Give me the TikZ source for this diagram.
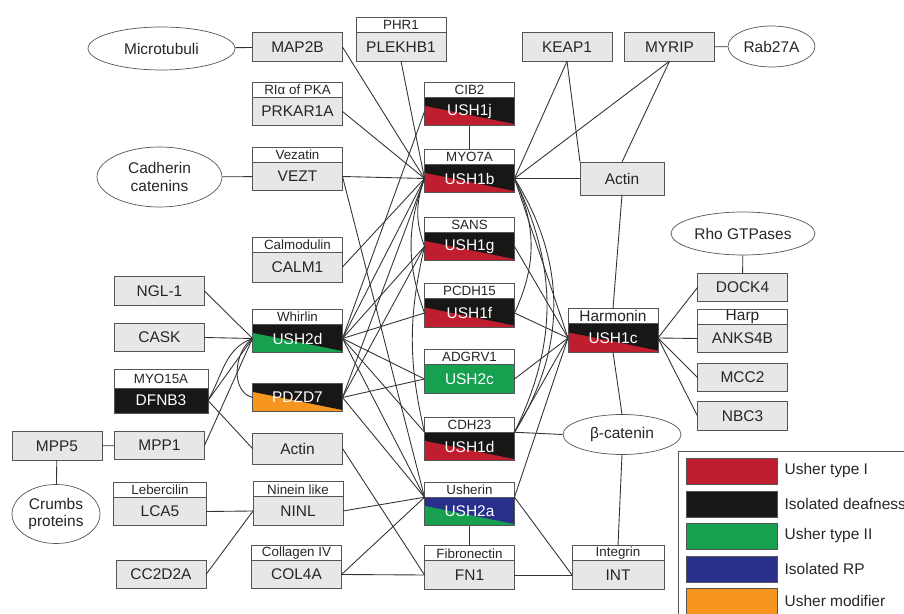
\documentclass[tikz,border=0pt]{standalone}
\usepackage{fontspec}
\setmainfont{Liberation Sans}
\usetikzlibrary{positioning, shapes.geometric, calc}

\definecolor{ushred}{RGB}{190,30,45}
\definecolor{ushgreen}{RGB}{22,160,80}
\definecolor{ushblue}{RGB}{40,48,140}
\definecolor{ushorange}{RGB}{246,150,30}
\definecolor{isoblack}{RGB}{25,22,22}
\definecolor{boxgray}{RGB}{230,231,233}
\definecolor{linegray}{RGB}{85,85,85}

\newcommand{\boxfont}{\fontsize{8.8}{10}\selectfont}
\newcommand{\headfont}{\fontsize{7.6}{8}\selectfont}

\tikzset{
  gbox/.style={draw=linegray, fill=boxgray, text=black!85, minimum width=1.8cm, minimum height=0.57cm, inner sep=0pt, outer sep=0pt, font=\boxfont},
  hbox/.style={draw=linegray, fill=white, text=black!85, minimum width=1.8cm, minimum height=0.3cm, inner sep=0pt, outer sep=0pt, font=\headfont},
  oval/.style={draw=linegray, fill=white, ellipse, inner sep=0pt, text=black!85, font=\boxfont, align=center},
  twotone/.style 2 args={gbox, fill=#1, text=white, path picture={
      \fill[#2] ($(path picture bounding box.north west)!0.3!(path picture bounding box.south west)$)
        -- (path picture bounding box.north west) -- (path picture bounding box.north east)
        -- ($(path picture bounding box.south east)!0.06!(path picture bounding box.north east)$) -- cycle;}},
  swatch/.style={draw=linegray, minimum width=1.82cm, minimum height=0.52cm, inner sep=0pt},
  legtext/.style={anchor=west, inner sep=0pt, font=\boxfont, text=black!85},
  link/.style={draw=black!80, line width=0.5pt},
}

\begin{document}
\begin{tikzpicture}[x=0.02cm, y=-0.02cm]
  \useasboundingbox (0,0) rectangle (904,614);

  % Ovals
  \node[oval, minimum width=2.94cm, minimum height=0.86cm] (microtubuli) at (161.5,48.5) {Microtubuli};
  \node[oval, minimum width=2.5cm, minimum height=1.2cm] (cadherin) at (159.5,177) {Cadherin\\catenins};
  \node[oval, minimum width=1.76cm, minimum height=1.18cm] (crumbs) at (56,514) {Crumbs\\proteins};
  \node[oval, minimum width=1.74cm, minimum height=0.82cm] (rab27a) at (771.5,46.5) {Rab27A};
  \node[oval, minimum width=2.88cm, minimum height=0.86cm] (rho) at (743,233.5) {Rho GTPases};
  \node[oval, minimum width=2.36cm, minimum height=0.8cm] (bcat) at (622,434.5) {β-catenin};

  % Far left column
  \node[gbox] (mpp5) at (57,446) {MPP5};
  \node[gbox] (ngl1) at (159.5,291) {NGL-1};
  \node[gbox] (cask) at (159.5,337.5) {CASK};
  \node[gbox, fill=isoblack, text=white, minimum width=1.88cm, minimum height=0.5cm] (dfnb3) at (161,400.5) {DFNB3};
  \node[hbox, minimum width=1.88cm, minimum height=0.38cm, above=0pt of dfnb3] (myo15a) {MYO15A};
  \node[gbox] (mpp1) at (159.5,445.5) {MPP1};
  \node[gbox, minimum width=1.86cm] (lca5) at (160,511.5) {LCA5};
  \node[hbox, minimum width=1.86cm, above=0pt of lca5] (lebercilin) {Lebercilin};
  \node[gbox] (cc2d2a) at (161,574.5) {CC2D2A};

  % Second column
  \node[gbox] (map2b) at (297.5,47) {MAP2B};
  \node[gbox] (prkar1a) at (297.5,111.5) {PRKAR1A};
  \node[hbox, above=0pt of prkar1a] (ria) {RIα of PKA};
  \node[gbox] (vezt) at (297.5,176.5) {VEZT};
  \node[hbox, above=0pt of vezt] (vezatin) {Vezatin};
  \node[gbox, minimum height=0.6cm] (calm1) at (297.5,267) {CALM1};
  \node[hbox, above=0pt of calm1] (calmodulin) {Calmodulin};
  \node[twotone={ushgreen}{isoblack}] (ush2d) at (297.5,338.5) {USH2d};
  \node[hbox, above=0pt of ush2d] (whirlin) {Whirlin};
  \node[twotone={ushorange}{isoblack}] (pdzd7) at (297.5,397.5) {PDZD7};
  \node[gbox, minimum height=0.62cm] (actinb) at (297.5,448.5) {Actin};
  \node[gbox] (ninl) at (298,511) {NINL};
  \node[hbox, above=0pt of ninl] (ninein) {Ninein like};
  \node[gbox] (col4a) at (296.5,574.5) {COL4A};
  \node[hbox, above=0pt of col4a] (collagen) {Collagen IV};
  \node[gbox] (plekhb1) at (401,47) {PLEKHB1};
  \node[hbox, above=0pt of plekhb1] (phr1) {PHR1};

  % Usher column
  \node[twotone={ushred}{isoblack}] (ush1j) at (469.5,111.5) {USH1j};
  \node[hbox, above=0pt of ush1j] (cib2) {CIB2};
  \node[twotone={ushred}{isoblack}] (ush1b) at (469.5,178.5) {USH1b};
  \node[hbox, above=0pt of ush1b] (myo7a) {MYO7A};
  \node[twotone={ushred}{isoblack}] (ush1g) at (469.5,246.5) {USH1g};
  \node[hbox, above=0pt of ush1g] (sans) {SANS};
  \node[twotone={ushred}{isoblack}] (ush1f) at (469.5,313) {USH1f};
  \node[hbox, above=0pt of ush1f] (pcdh15) {PCDH15};
  \node[gbox, fill=ushgreen, text=white] (ush2c) at (469.5,379) {USH2c};
  \node[hbox, above=0pt of ush2c] (adgrv1) {ADGRV1};
  \node[twotone={ushred}{isoblack}] (ush1d) at (469.5,446.5) {USH1d};
  \node[hbox, above=0pt of ush1d] (cdh23) {CDH23};
  \node[twotone={ushgreen}{ushblue}] (ush2a) at (469.5,511.5) {USH2a};
  \node[hbox, above=0pt of ush2a] (usherin) {Usherin};
  \node[gbox] (fn1) at (469.5,575) {FN1};
  \node[hbox, above=0pt of fn1] (fibronectin) {Fibronectin};

  % Right part
  \node[gbox] (keap1) at (567,47) {KEAP1};
  \node[gbox] (myrip) at (669.5,47) {MYRIP};
  \node[gbox, minimum width=1.68cm, minimum height=0.66cm] (actint) at (622,178.5) {Actin};
  \node[twotone={ushred}{isoblack}] (ush1c) at (613,338) {USH1c};
  \node[hbox, font=\boxfont, above=0pt of ush1c] (harmonin) {Harmonin};
  \node[gbox, minimum width=1.84cm] (int) at (618,575) {INT};
  \node[hbox, minimum width=1.84cm, above=0pt of int] (integrin) {Integrin};
  \node[gbox] (dock4) at (742.5,287.5) {DOCK4};
  \node[gbox] (anks4b) at (742.5,338.5) {ANKS4B};
  \node[hbox, font=\boxfont, above=0pt of anks4b] (harp) {Harp};
  \node[gbox] (mcc2) at (742.5,377.5) {MCC2};
  \node[gbox] (nbc3) at (742.5,416) {NBC3};

  % Oval links
  \draw[link] (microtubuli) -- (map2b);
  \draw[link] (cadherin) -- (vezt);
  \draw[link] (myrip) -- (rab27a);
  \draw[link] (rho) -- (dock4);
  \draw[link] (mpp5) -- (mpp1);
  \draw[link] (mpp5) -- (crumbs);

  % Into USH1b
  \draw[link] (map2b.east) -- (ush1b.west);
  \draw[link] (plekhb1.south) -- (ush1b.west);
  \draw[link] (prkar1a.east) -- (ush1b.west);
  \draw[link] (vezt.east) -- (ush1b.west);
  \draw[link] (calm1.east) -- (ush1b.west);
  \draw[link] (ush2d.east) -- (ush1b.west);
  \draw[link] (pdzd7.east) -- (ush1b.west);
  \draw[link] (ush1j) -- (myo7a);
  \draw[link] (ush1b.east) -- (keap1.south);
  \draw[link] (ush1b.east) -- (myrip.south);
  \draw[link] (ush1b.east) -- (actint.west);
  \draw[link] (keap1.south) -- (actint.north west);
  \draw[link] (myrip.south) -- (actint.north);
  \draw[link] (actint.south) -- (harmonin.north);

  % Whirlin and PDZD7
  \draw[link] (ngl1.east) -- (ush2d.west);
  \draw[link] (cask.east) -- (ush2d.west);
  \draw[link] (mpp1.east) -- (ush2d.west);
  \draw[link] (dfnb3.east) -- (ush2d.west);
  \draw[link] (dfnb3.east) to[out=60, in=200] (ush2d.west);
  \draw[link] (dfnb3.east) -- (actinb.west);
  \draw[link] (ush2d.west) to[out=215, in=165] (pdzd7.west);
  \draw[link] (ush2d.east) -- (ush1j.west);
  \draw[link] (ush2d.east) -- (ush1g.west);
  \draw[link] (ush2d.east) -- (ush1f.west);
  \draw[link] (ush2d.east) -- (ush2c.west);
  \draw[link] (ush2d.east) -- (ush1d.north west);
  \draw[link] (ush2d.east) -- (ush2a.north west);
  \draw[link] (pdzd7.east) -- (ush1g.west);
  \draw[link] (pdzd7.east) -- (ush2c.west);
  \draw[link] (pdzd7.east) -- (ush2a.north west);
  \draw[link] (vezt.east) -- (ush2a.north west);

  % Curves along the Usher column
  \draw[link] (ush1b.west) to[out=250, in=110] (ush1g.west);
  \draw[link] (ush1b.west) to[out=250, in=110] (ush1f.west);
  \draw[link] (ush1g.west) to[out=257, in=103] (ush1d.north west);
  \draw[link] (ush1b.east) to[out=-65, in=65] (ush1f.east);
  \draw[link] (ush1b.east) to[out=-64, in=64] (ush1d.north east);
  \draw[link] (ush1b.east) to[out=-58, in=58] (ush1d.north east);

  % Harmonin
  \draw[link] (ush1b.east) -- (ush1c.west);
  \draw[link] (ush1g.east) -- (ush1c.west);
  \draw[link] (ush1f.east) -- (ush1c.west);
  \draw[link] (ush2c.east) -- (ush1c.west);
  \draw[link] (ush1d.north east) -- (ush1c.west);
  \draw[link] (ush2a.north east) -- (ush1c.west);
  \draw[link] (ush1c.east) -- (dock4.west);
  \draw[link] (ush1c.east) -- (anks4b.west);
  \draw[link] (ush1c.east) -- (mcc2.west);
  \draw[link] (ush1c.east) -- (nbc3.west);
  \draw[link] (ush1c.south) -- (bcat.north);
  \draw[link] (ush1d.north east) -- (bcat.west);
  \draw[link] (bcat.south) -- (integrin.north);

  % Bottom rows
  \draw[link] (lca5.east) -- (ninl.west);
  \draw[link] (cc2d2a.east) -- (ninl.west);
  \draw[link] (ninl.east) -- (ush2a.north west);
  \draw[link] (col4a.east) -- (ush2a.north west);
  \draw[link] (col4a.east) -- (fn1.west);
  \draw[link] (actinb.east) -- (fn1.west);
  \draw[link] (ush2a) -- (fibronectin);
  \draw[link] (ush2a.north east) -- (int.west);
  \draw[link] (fn1.east) -- (int.west);

  % Legend
  \draw[linegray] (678,451) rectangle (940,640);
  \node[swatch, fill=ushred] (swI) at (731.5,471) {};
  \node[legtext, right=0.14cm of swI] (lgI) {Usher type I};
  \node[swatch, fill=isoblack] (swD) at (731.5,504) {};
  \node[legtext, right=0.14cm of swD] (lgD) {Isolated deafness};
  \node[swatch, fill=ushgreen] (swII) at (731.5,536) {};
  \node[legtext, right=0.14cm of swII] (lgII) {Usher type II};
  \node[swatch, fill=ushblue] (swRP) at (731.5,569) {};
  \node[legtext, right=0.14cm of swRP] (lgRP) {Isolated RP};
  \node[swatch, fill=ushorange] (swM) at (731.5,601) {};
  \node[legtext, right=0.14cm of swM] (lgM) {Usher modifier};
\end{tikzpicture}
\end{document}
